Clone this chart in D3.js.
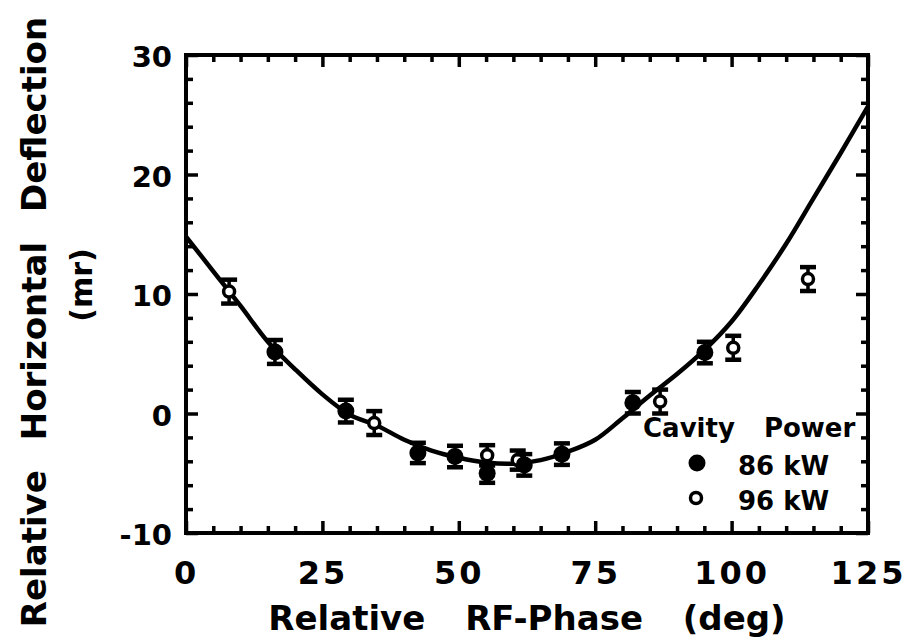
<!DOCTYPE html>
<html>
<head>
<meta charset="utf-8">
<script src="https://cdn.jsdelivr.net/npm/d3@7"></script>
<style>
  body { margin: 0; background: #fff; }
  text { font-family: "DejaVu Sans", "Liberation Sans", Arial, sans-serif; font-weight: bold; fill: #000; }
</style>
</head>
<body>
<div id="chart"></div>
<script>
// fitted curve
const curvePhase = [0, 5, 10, 15, 20, 25, 30, 35, 40, 45, 50, 55, 60, 65, 70, 75, 80, 85, 90, 95, 100, 105, 110, 115, 120, 125];
const curveDefl = [14.8, 11.9, 9.0, 6.0, 3.7, 1.6, -0.1, -1.0, -2.2, -3.1, -3.7, -4.1, -4.2, -3.9, -3.2, -2.2, -0.4, 1.5, 3.3, 5.3, 7.7, 10.8, 14.2, 18.0, 21.8, 25.7];

// 86 kW measurements (filled)
const phase86 = [16.3, 29.3, 42.5, 49.3, 55.2, 62.0, 68.9, 81.9, 95.1];
const defl86 = [5.15, 0.2, -3.3, -3.6, -5.0, -4.3, -3.4, 0.9, 5.1];
const err86 = [1.0, 0.95, 0.85, 0.9, 0.8, 0.9, 0.9, 0.9, 0.9];

// 96 kW measurements (open)
const phase96 = [7.9, 34.5, 55.2, 60.8, 86.9, 100.3, 114.0];
const defl96 = [10.2, -0.8, -3.5, -3.9, 1.0, 5.5, 11.25];
const err96 = [1.0, 1.0, 0.85, 0.8, 1.0, 1.0, 1.0];

const xMajor = [0, 25, 50, 75, 100, 125];
const yMajor = [-10, 0, 10, 20, 30];

const W = 905, H = 642;
const margin = {top: 55, right: 37, bottom: 109, left: 186};
const width = W - margin.left - margin.right;
const height = H - margin.top - margin.bottom;

const svg = d3.select('#chart').append('svg')
  .attr('width', W)
  .attr('height', H);

const g = svg.append('g')
  .attr('transform', `translate(${margin.left},${margin.top})`);

const x = d3.scaleLinear().domain([0, 125]).range([0, width]);
const y = d3.scaleLinear().domain([-10, 30]).range([height, 0]);

const xMinor = d3.range(0, 126, 5).filter(d => d % 25 !== 0);
const yMinor = d3.range(-10, 31, 2).filter(d => d % 10 !== 0);

// ticks, all pointing inward
function tickAxis(axis, transform) {
  const a = g.append('g').attr('transform', transform).call(axis);
  a.select('.domain').remove();
  a.selectAll('.tick line').attr('stroke', '#000').attr('stroke-width', 3.5);
  return a;
}

const xAxisBottom = tickAxis(d3.axisBottom(x).tickValues(xMajor).tickSize(-12).tickPadding(28)
  .tickFormat(d => String(d)), `translate(0,${height})`);
xAxisBottom.selectAll('text')
  .style('font-size', '32px')
  .style('letter-spacing', '3px');
tickAxis(d3.axisBottom(x).tickValues(xMinor).tickSize(-7).tickFormat(''), `translate(0,${height})`);
tickAxis(d3.axisTop(x).tickValues(xMajor).tickSize(-12).tickFormat(''), 'translate(0,0)');
tickAxis(d3.axisTop(x).tickValues(xMinor).tickSize(-7).tickFormat(''), 'translate(0,0)');

const yAxisLeft = tickAxis(d3.axisLeft(y).tickValues(yMajor).tickSize(-12).tickPadding(14)
  .tickFormat(d => String(d)), 'translate(0,0)');
yAxisLeft.selectAll('text')
  .style('font-size', '29px')
  .attr('dy', '0.4em');
tickAxis(d3.axisLeft(y).tickValues(yMinor).tickSize(-7).tickFormat(''), 'translate(0,0)');
tickAxis(d3.axisRight(y).tickValues(yMajor).tickSize(-12).tickFormat(''), `translate(${width},0)`);
tickAxis(d3.axisRight(y).tickValues(yMinor).tickSize(-7).tickFormat(''), `translate(${width},0)`);

// frame
g.append('rect')
  .attr('width', width)
  .attr('height', height)
  .attr('fill', 'none')
  .attr('stroke', '#000')
  .attr('stroke-width', 4);

// fit curve
const line = d3.line()
  .x((d, i) => x(curvePhase[i]))
  .y(d => y(d))
  .curve(d3.curveCatmullRom);

g.append('path')
  .datum(curveDefl)
  .attr('d', line)
  .attr('fill', 'none')
  .attr('stroke', '#000')
  .attr('stroke-width', 4.5);

// error bars + markers
function drawSeries(ph, de, er, filled) {
  const data = ph.map((p, i) => ({p: p, d: de[i], e: er[i]}));
  const s = g.append('g');
  const bars = s.selectAll('.eb').data(data).enter().append('g');
  bars.append('line')
    .attr('x1', d => x(d.p)).attr('x2', d => x(d.p))
    .attr('y1', d => y(d.d - d.e)).attr('y2', d => y(d.d + d.e))
    .attr('stroke', '#000').attr('stroke-width', 3.5);
  [-1, 1].forEach(k => {
    bars.append('line')
      .attr('x1', d => x(d.p) - 8).attr('x2', d => x(d.p) + 8)
      .attr('y1', d => y(d.d + k * d.e)).attr('y2', d => y(d.d + k * d.e))
      .attr('stroke', '#000').attr('stroke-width', 4.5);
  });
  s.selectAll('circle').data(data).enter().append('circle')
    .attr('cx', d => x(d.p))
    .attr('cy', d => y(d.d))
    .attr('r', filled ? 8.5 : 5.5)
    .attr('fill', filled ? '#000' : '#fff')
    .attr('stroke', '#000')
    .attr('stroke-width', filled ? 0 : 3.5);
}
drawSeries(phase96, defl96, err96, false);
drawSeries(phase86, defl86, err86, true);

// legend
svg.append('text')
  .attr('x', 643).attr('y', 437)
  .style('font-size', '26px')
  .style('word-spacing', '20px')
  .text('Cavity Power');
svg.append('circle').attr('cx', 697).attr('cy', 463).attr('r', 8.5).attr('fill', '#000');
svg.append('text').attr('x', 738).attr('y', 475).style('font-size', '26px').text('86 kW');
svg.append('circle').attr('cx', 696).attr('cy', 498).attr('r', 5.5)
  .attr('fill', '#fff').attr('stroke', '#000').attr('stroke-width', 3.5);
svg.append('text').attr('x', 738).attr('y', 510).style('font-size', '26px').text('96 kW');

// axis titles
svg.append('text')
  .attr('x', margin.left + width / 2)
  .attr('y', 630)
  .attr('text-anchor', 'middle')
  .style('font-size', '34px')
  .style('word-spacing', '28px')
  .text('Relative RF-Phase (deg)');

svg.append('text')
  .attr('transform', 'translate(46,322) rotate(-90)')
  .attr('text-anchor', 'middle')
  .style('font-size', '34px')
  .style('word-spacing', '18px')
  .text('Relative Horizontal Deflection');

svg.append('text')
  .attr('transform', 'translate(92,285) rotate(-90)')
  .attr('text-anchor', 'middle')
  .style('font-size', '30px')
  .text('(mr)');
</script>
</body>
</html>
